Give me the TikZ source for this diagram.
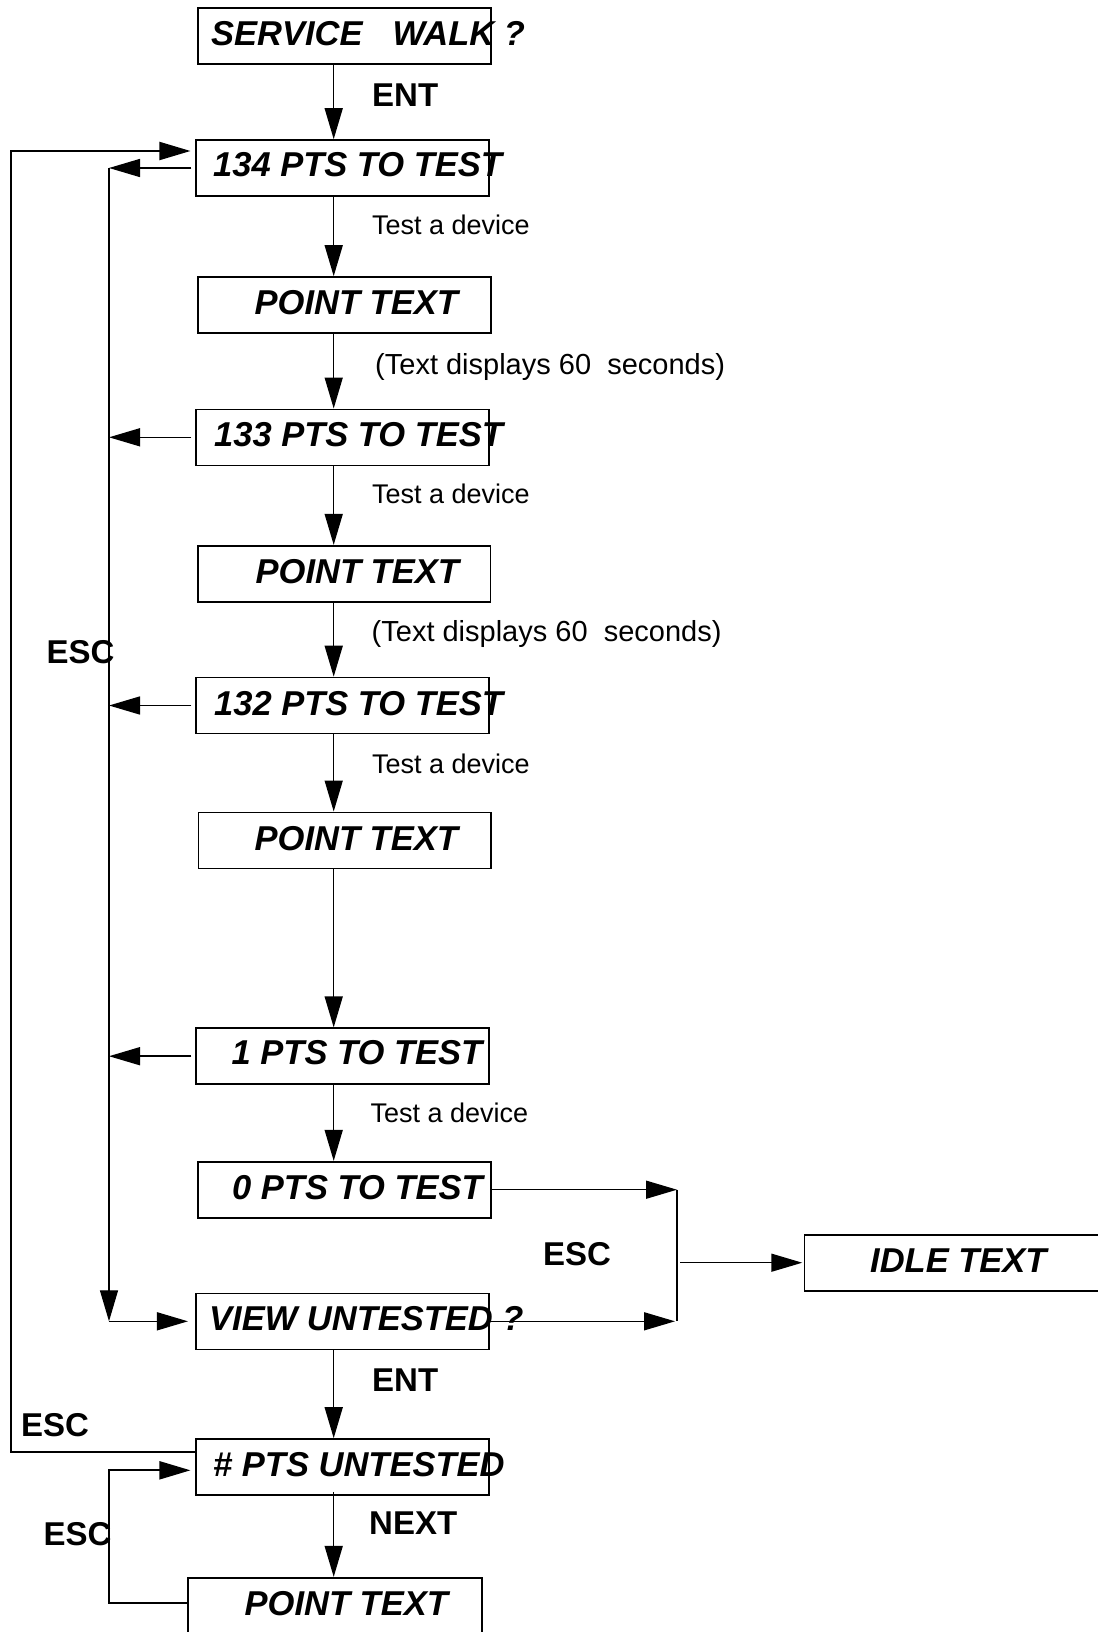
\documentclass[tikz,border=0pt]{standalone}
\usepackage{fontspec}
\setmainfont{Liberation Sans}
\usetikzlibrary{arrows.meta,calc}
\begin{document}
\begin{tikzpicture}[x=1pt,y=-1pt,
  box/.style={draw, line width=1.6pt, minimum width=292.5pt, minimum height=56pt, inner sep=0pt},
  boxtxt/.style={anchor=base west, inner sep=0pt, font=\bfseries\itshape\fontsize{34.5}{40}\selectfont},
  keytxt/.style={anchor=base west, inner sep=0pt, font=\bfseries\fontsize{33}{40}\selectfont},
  note/.style={anchor=base west, inner sep=0pt, font=\fontsize{27}{32}\selectfont},
  wnote/.style={anchor=base west, inner sep=0pt, font=\fontsize{29}{34}\selectfont},
  arr/.style={-{Triangle[length=31pt,width=18pt]}, line width=1.5pt},
  wire/.style={line width=1.5pt}]
\useasboundingbox (0,0) rectangle (1097,1632);
% boxes
\node[box] (b0) at (344.5,36) {};
\node[box] (b1) at (342.5,168) {};
\node[box] (b2) at (344.5,305) {};
\node[box] (b3) at (342.5,437.3) {};
\node[box] (b4) at (344.3,573.7) {};
\node[box] (b5) at (342.5,705.5) {};
\node[box] (b6) at (344.6,840.3) {};
\node[box] (b7) at (342.5,1056.2) {};
\node[box] (b8) at (344.5,1189.7) {};
\node[box] (b9) at (342.5,1321.3) {};
\node[box, minimum width=295.5pt] (b10) at (952.3,1262.7) {};
\node[box] (b11) at (342.5,1467) {};
\node[box, minimum width=293.5pt] (b12) at (335,1605.7) {};
% box texts
\node[boxtxt] (t0) at (211,45.7) {SERVICE\hspace{30pt}WALK ?};
\node[boxtxt] (t1) at (213,177) {134 PTS TO TEST};
\node[boxtxt] (t2) at (254.5,314.6) {POINT TEXT};
\node[boxtxt] (t3) at (214,446.3) {133 PTS TO TEST};
\node[boxtxt] (t4) at (255.5,583.3) {POINT TEXT};
\node[boxtxt] (t5) at (214,715) {132 PTS TO TEST};
\node[boxtxt] (t6) at (254.5,850) {POINT TEXT};
\node[boxtxt] (t7) at (231.5,1064.5) {1 PTS TO TEST};
\node[boxtxt] (t8) at (232,1199) {0 PTS TO TEST};
\node[boxtxt] (t9) at (209,1330.7) {VIEW UNTESTED ?};
\node[boxtxt] (t10) at (870,1272.2) {IDLE TEXT};
\node[boxtxt] (t11) at (213,1476) {\# PTS UNTESTED};
\node[boxtxt] (t12) at (244.5,1615) {POINT TEXT};
% key labels
\node[keytxt] (k0) at (372,107) {ENT};
\node[keytxt] (k1) at (46.5,663) {ESC};
\node[keytxt] (k2) at (543,1265.7) {ESC};
\node[keytxt] (k3) at (372,1391.7) {ENT};
\node[keytxt] (k4) at (21,1436) {ESC};
\node[keytxt] (k5) at (369,1534) {NEXT};
\node[keytxt] (k6) at (43.5,1545.7) {ESC};
% notes
\node[note] (n1) at (372,234.5) {Test a device};
\node[wnote] (n2) at (375,374) {(Text displays 60\ \ seconds)};
\node[note] (n3) at (372,503.5) {Test a device};
\node[wnote] (n4) at (371.5,641) {(Text displays 60\ \ seconds)};
\node[note] (n5) at (372,773.5) {Test a device};
\node[note] (n6) at (370.5,1122) {Test a device};
% reference coordinates
\coordinate (ax) at (333.7,0);
\coordinate (inner) at (109,0);
\coordinate (junc) at (677,0);
\coordinate (o1) at (10.7,1451.7);
\coordinate (o2) at (10.7,151);
\coordinate (l1) at (109,1470.3);
% vertical flow arrows
\draw[arr] (b0.south -| ax) -- (b1.north -| ax);
\draw[arr] (b1.south -| ax) -- (b2.north -| ax);
\draw[arr] (b2.south -| ax) -- (b3.north -| ax);
\draw[arr] (b3.south -| ax) -- (b4.north -| ax);
\draw[arr] (b4.south -| ax) -- (b5.north -| ax);
\draw[arr] (b5.south -| ax) -- (b6.north -| ax);
\draw[arr] (b6.south -| ax) -- (b7.north -| ax);
\draw[arr] (b7.south -| ax) -- (b8.north -| ax);
\draw[arr] (b9.south -| ax) -- (b11.north -| ax);
\draw[arr] ([yshift=4pt]b11.south -| ax) -- (b12.north -| ax);
% ESC arrows to the inner line
\draw[arr] ([xshift=-4pt]b1.west) -- (b1.west -| inner);
\draw[arr] ([xshift=-4pt]b3.west) -- (b3.west -| inner);
\draw[arr] ([xshift=-4pt]b5.west) -- (b5.west -| inner);
\draw[arr] ([xshift=-4pt]b7.west) -- (b7.west -| inner);
\draw[arr, line width=1.3pt] (b1.west -| inner) -- (b9.west -| inner);
\draw[arr] (b9.west -| inner) -- ([xshift=-7.5pt]b9.west);
% outer ESC loop
\draw[arr, line width=2pt] ([yshift=15.3pt]b11.west) -- (o1) -- (o2) -- ([yshift=17pt,xshift=-5pt]b1.west);
% lower ESC loop
\draw[arr, line width=2pt] ([yshift=3pt]b12.west) -| (l1) -- ([yshift=-3.3pt,xshift=-5pt]b11.west);
% right side to IDLE TEXT
\draw[arr] (b8.east) -- (b8.east -| junc);
\draw[arr] (b9.east) -- ($(b9.east -| junc)+(-2,0)$);
\draw[wire] (b8.east -| junc) -- (b9.east -| junc);
\draw[arr] ($(b10.west -| junc)+(3,0)$) -- ([xshift=-1.5pt]b10.west);
\end{tikzpicture}
\end{document}
